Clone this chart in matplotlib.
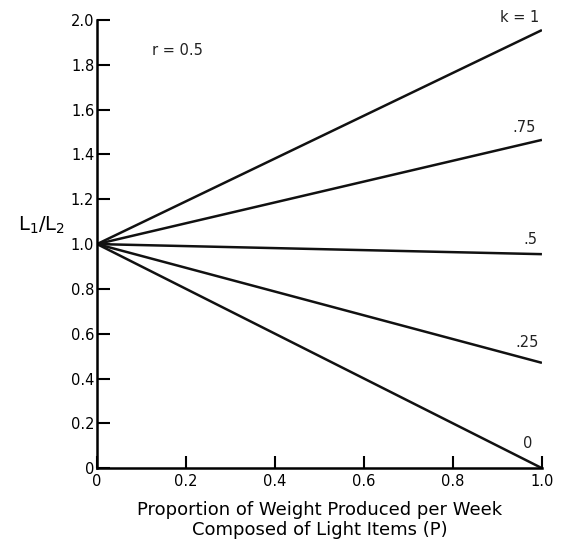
import numpy as np
import matplotlib
matplotlib.use("Agg")
from matplotlib import pyplot as plt
import matplotlib.ticker as mtick

# доля лёгких изделий P и отношение L1/L2 на концах прямых (r = 0.5)
p = [0.0, 1.0]
k_labels = ['k = 1', '.75', '.5', '.25', '0']
ratio_start = [1.0, 1.0, 1.0, 1.0, 1.0]
ratio_end = [1.955, 1.465, 0.955, 0.47, 0.0]

x_ticks = [0, 0.2, 0.4, 0.6, 0.8, 1.0]
x_ticklabels = ['0', '0.2', '0.4', '0.6', '0.8', '1.0']
y_ticks = [0, 0.2, 0.4, 0.6, 0.8, 1.0, 1.2, 1.4, 1.6, 1.8, 2.0]
y_ticklabels = ['0', '0.2', '0.4', '0.6', '0.8', '1.0', '1.2', '1.4', '1.6', '1.8', '2.0']

plt.rcParams['font.family'] = ['DejaVu Sans']

fig = plt.figure(figsize=(5.61, 5.40), dpi=100)
ax1 = fig.add_axes([0.173, 0.133, 0.793, 0.830])

for lab, y0, y1 in zip(k_labels, ratio_start, ratio_end):
    ax1.plot(p, [y0, y1], color='#111111', lw=1.8, solid_capstyle='butt')

# подписи прямых у правого края
label_pos = {'k = 1': (0.95, 2.01), '.75': (0.96, 1.52), '.5': (0.973, 1.02),
             '.25': (0.966, 0.56), '0': (0.969, 0.11)}
for lab, (xx, yy) in label_pos.items():
    ax1.text(xx, yy, lab, fontsize=10.5, ha='center', va='center', color='#222222')

ax1.text(0.18, 1.866, 'r = 0.5', fontsize=10.5, ha='center', va='center', color='#222222')

ax1.set_xlim(0, 1.0)
ax1.set_ylim(0, 2.0)
ax1.spines['top'].set_visible(False)
ax1.spines['right'].set_visible(False)
ax1.spines['left'].set_linewidth(1.8)
ax1.spines['bottom'].set_linewidth(1.8)

ax1.set_xticks(x_ticks)
ax1.set_xticklabels(x_ticklabels)
ax1.set_yticks(y_ticks)
ax1.set_yticklabels(y_ticklabels)
ax1.tick_params(direction='in', length=9, width=1.5, labelsize=10.5, pad=2)
ax1.tick_params(axis='x', pad=4)

ax1.set_xlabel('Proportion of Weight Produced per Week\nComposed of Light Items (P)',
               fontsize=13, linespacing=1.1, labelpad=9)
fig.text(0.075, 1 - 225 / 540, 'L$_1$/L$_2$', fontsize=14, ha='center', va='center')

fig.savefig('out.png', dpi=100, facecolor='white')
